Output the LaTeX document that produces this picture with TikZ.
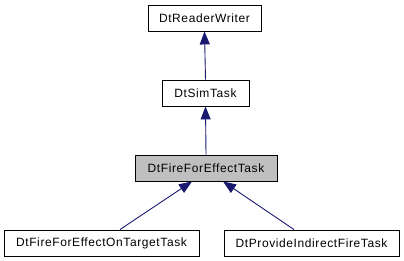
\documentclass[tikz,border=0pt]{standalone}
\usepackage{fontspec}
\setmainfont{Liberation Sans}[LetterSpace=5]
\usetikzlibrary{arrows.meta}
\definecolor{edgeblue}{HTML}{191970}
\definecolor{curfill}{HTML}{BFBFBF}
\begin{document}
\begin{tikzpicture}[x=1pt,y=-1pt,
  cls/.style={draw=black,line width=0.9pt,fill=white,inner sep=0pt,minimum height=26pt,font=\fontsize{12}{14}\selectfont,anchor=center},
  cur/.style={cls,fill=curfill},
  inh/.style={draw=edgeblue,line width=0.9pt,-{Triangle[length=13pt,width=10pt,fill=edgeblue]}}]
\useasboundingbox (0,0) rectangle (404,261);
\node[cls,minimum width=113pt] (rw) at (204.5,18) {DtReaderWriter};
\node[cls,minimum width=87pt] (sim) at (205.5,93) {DtSimTask};
\node[cur,minimum width=142pt] (ffe) at (206,168) {DtFireForEffectTask};
\node[cls,minimum width=195pt] (tgt) at (101.5,243) {DtFireForEffectOnTargetTask};
\node[cls,minimum width=175pt] (ind) at (311.5,243) {DtProvideIndirectFireTask};
\draw[inh] (sim.north) -- (rw.south);
\draw[inh] (ffe.north) -- (sim.south);
\draw[inh] ([xshift=18.5pt]tgt.north) -- ([xshift=-14pt]ffe.south);
\draw[inh] ([xshift=-17.5pt]ind.north) -- ([xshift=17pt]ffe.south);
\end{tikzpicture}
\end{document}
